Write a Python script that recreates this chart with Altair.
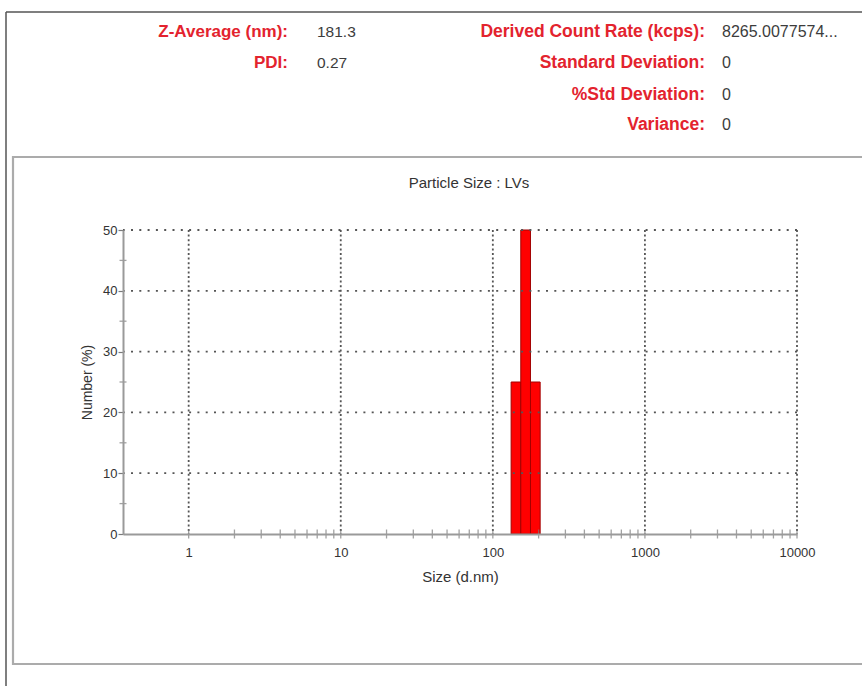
import altair as alt
import pandas as pd

# Number distribution by size class (d.nm)
bin_center = [141.8, 164.2, 190.1]
bin_lo = [131.9, 152.7, 176.8]
bin_hi = [152.7, 176.8, 204.7]
number_pct = [25, 50, 25]

# Summary block shown above the plot
left_labels = ["Z-Average (nm):", "PDI:"]
left_values = ["181.3", "0.27"]
right_labels = ["Derived Count Rate (kcps):", "Standard Deviation:", "%Std Deviation:", "Variance:"]
right_values = ["8265.0077574...", "0", "0", "0"]

chart_title = "Particle Size : LVs"
x_title = "Size (d.nm)"
y_title = "Number (%)"

x_decades = [1, 10, 100, 1000, 10000]
y_major = [0, 10, 20, 30, 40, 50]
y_minor = [5, 15, 25, 35, 45]
x_minor = [m * d for d in [1, 10, 100, 1000] for m in range(1, 10)] + [10000]

X_DOMAIN = [0.37, 10000]
Y_DOMAIN = [0, 50]
W, H = 674, 304
FONT = "Liberation Sans"
RED = "#e3232e"
VAL = "#3c3c3c"
TICK = "#7a7a7a"

xs = alt.Scale(type="log", domain=X_DOMAIN, nice=False)
ys = alt.Scale(domain=Y_DOMAIN, nice=False)

bars_df = pd.DataFrame({"center": bin_center, "lo": bin_lo, "hi": bin_hi, "pct": number_pct})
bars = alt.Chart(bars_df).mark_bar(color="#ff0000", stroke="#a30000", strokeWidth=1).encode(
    x=alt.X("lo:Q", scale=xs, title=x_title,
            axis=alt.Axis(values=x_decades, format="d", ticks=False, tickSize=0, grid=False,
                          labelPadding=12, labelFontSize=13, labelColor="#333", labelFont=FONT,
                          labelFlush=False,
                          domainColor="#9a9a9a", domainWidth=2, zindex=1,
                          titleFont=FONT, titleFontSize=15, titleFontWeight="normal", titleColor="#333",
                          titleY=42, titleBaseline="middle")),
    x2="hi:Q",
    y=alt.Y("pct:Q", scale=ys, title=y_title,
            axis=alt.Axis(values=y_major, tickSize=5, tickColor=TICK, tickWidth=1.2, grid=False,
                          labelPadding=1, labelFontSize=13, labelColor="#333", labelFont=FONT,
                          labelFlush=False,
                          domainColor="#9a9a9a", domainWidth=2, zindex=1,
                          titleFont=FONT, titleFontSize=14, titleFontWeight="normal", titleColor="#333",
                          titleX=-36, titleY=H / 2, titleAngle=-90, titleAlign="center",
                          titleBaseline="middle")),
    y2=alt.datum(0),
)

# dotted grid
vgrid = alt.Chart(pd.DataFrame({"v": x_decades})).mark_rule(
    color="#555", strokeWidth=1.8, strokeDash=[2, 2.6]
).encode(x=alt.X("v:Q", scale=xs, title=x_title))
hgrid = alt.Chart(pd.DataFrame({"v": y_major[1:]})).mark_rule(
    color="#555", strokeWidth=1.8, strokeDash=[2, 6.3]
).encode(y=alt.Y("v:Q", scale=ys, title=y_title))

# ticks crossing the axis lines
xticks = alt.Chart(pd.DataFrame({"v": x_minor})).mark_tick(
    orient="vertical", size=9, thickness=1.3, color=TICK
).encode(x=alt.X("v:Q", scale=xs, title=x_title), y=alt.datum(0, scale=ys, title=y_title))
yticks = alt.Chart(pd.DataFrame({"v": y_minor})).mark_tick(
    orient="horizontal", size=7, thickness=1.3, color=TICK
).encode(y=alt.Y("v:Q", scale=ys, title=y_title), x=alt.datum(X_DOMAIN[0], scale=xs, title=x_title))

one = alt.Data(values=[{}])

title_mark = alt.Chart(one).mark_text(
    text=chart_title, font=FONT, fontSize=15, color="#333", align="center", baseline="middle"
).encode(x=alt.value(346), y=alt.value(-47))

# panel frames
outer_top = alt.Chart(one).mark_rule(color="#555", strokeWidth=1.5).encode(
    x=alt.value(-117), x2=alt.value(760), y=alt.value(-218))
outer_left = alt.Chart(one).mark_rule(color="#555", strokeWidth=1.5).encode(
    x=alt.value(-117), y=alt.value(-218), y2=alt.value(470))
inner = alt.Chart(one).mark_rect(fill="white", stroke="#ababab", strokeWidth=2.2).encode(
    x=alt.value(-110), x2=alt.value(760), y=alt.value(-73), y2=alt.value(434))

ROW_Y = [-198.5, -167, -135.5, -105]
texts = []
for i, (lab, val) in enumerate(zip(left_labels, left_values)):
    texts.append(alt.Chart(one).mark_text(text=lab, font=FONT, fontSize=17, fontWeight="bold",
                                          color=RED, align="right", baseline="middle")
                 .encode(x=alt.value(165), y=alt.value(ROW_Y[i])))
    texts.append(alt.Chart(one).mark_text(text=val, font=FONT, fontSize=15.5, color=VAL,
                                          align="left", baseline="middle")
                 .encode(x=alt.value(194), y=alt.value(ROW_Y[i])))
for i, (lab, val) in enumerate(zip(right_labels, right_values)):
    texts.append(alt.Chart(one).mark_text(text=lab, font=FONT, fontSize=17.5, fontWeight="bold",
                                          color=RED, align="right", baseline="middle")
                 .encode(x=alt.value(582), y=alt.value(ROW_Y[i])))
    texts.append(alt.Chart(one).mark_text(text=val, font=FONT, fontSize=16, color=VAL,
                                          align="left", baseline="middle")
                 .encode(x=alt.value(599), y=alt.value(ROW_Y[i])))

chart = alt.layer(
    inner, outer_top, outer_left, bars, vgrid, hgrid, xticks, yticks, title_mark, *texts
).properties(
    width=W, height=H,
    autosize=alt.AutoSizeParams(type="none"),
    padding={"left": 123, "top": 230, "right": 65, "bottom": 152},
).configure_view(stroke=None).configure(background="white")

chart.save("out.html", embed_options={"renderer": "svg", "actions": False})
